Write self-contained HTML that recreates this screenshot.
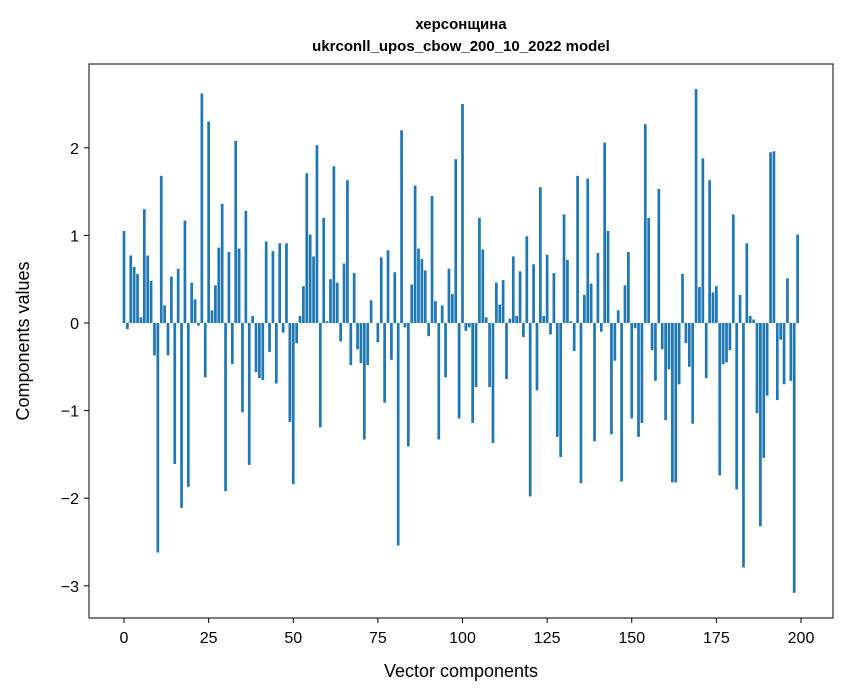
<!DOCTYPE html>
<html><head><meta charset="utf-8"><style>
body{margin:0;background:#fff;}
svg{display:block;font-family:"Liberation Sans","DejaVu Sans",sans-serif;}
</style></head><body>
<svg id="chart" width="847" height="696" viewBox="0 0 847 696">
<rect width="847" height="696" fill="#fff"/>
<text x="461" y="29" text-anchor="middle" font-size="15" font-weight="bold">херсонщина</text>
<text x="461" y="51" text-anchor="middle" font-size="15" font-weight="bold">ukrconll_upos_cbow_200_10_2022 model</text>
<g id="bars"></g>
<g id="xticks"></g>
<g id="yticks"></g>
<rect x="89" y="64" width="744" height="554" fill="none" stroke="#000" stroke-width="1"/>
<text x="461" y="677" text-anchor="middle" font-size="18">Vector components</text>
<text transform="translate(29,341) rotate(-90)" text-anchor="middle" font-size="18">Components values</text>
</svg>
<script>
const values = [1.05,-0.07,0.77,0.64,0.56,0.065,1.30,0.77,0.48,-0.37,
-2.62,1.68,0.20,-0.37,0.53,-1.61,0.62,-2.11,1.17,-1.87,
0.46,0.27,-0.03,2.62,-0.62,2.30,0.145,0.43,0.86,1.36,
-1.92,0.81,-0.47,2.08,0.85,-1.02,1.28,-1.62,0.08,-0.56,
-0.63,-0.65,0.93,-0.33,0.82,-0.69,0.91,-0.11,0.91,-1.13,
-1.84,-0.23,0.08,0.42,1.71,1.01,0.76,2.03,-1.19,1.20,
0.02,0.50,1.79,0.46,-0.21,0.68,1.63,-0.48,0.57,-0.30,
-0.46,-1.33,-0.48,0.26,0.0,-0.22,0.75,-0.91,0.83,-0.42,
0.58,-2.54,2.20,-0.05,-1.41,0.44,1.57,0.85,0.73,0.60,
-0.15,1.45,0.25,-1.33,0.20,-0.62,0.62,0.33,1.87,-1.09,
2.50,-0.09,-0.05,-1.14,-0.73,1.20,0.84,0.065,-0.73,-1.37,
0.46,0.21,0.49,-0.64,0.05,0.76,0.08,0.59,-0.16,0.99,
-1.98,0.67,-0.77,1.55,0.08,0.78,-0.13,0.57,-1.30,-1.53,
1.24,0.72,0.02,-0.32,1.68,-1.83,0.32,1.65,0.45,-1.35,
0.80,-0.10,2.06,1.05,-1.27,-0.43,0.145,-1.81,0.43,0.81,
-1.09,-0.06,-1.30,-1.14,2.27,1.20,-0.31,-0.66,1.53,-0.30,
-1.11,-0.53,-1.82,-1.82,-0.70,0.56,-0.23,-0.50,-1.15,2.67,
0.41,1.88,-0.63,1.63,0.35,0.42,-1.74,-0.47,-0.45,-0.31,
1.24,-1.90,0.32,-2.79,0.91,0.08,0.04,-1.03,-2.32,-1.54,
-0.83,1.95,1.96,-0.88,-0.19,-0.70,0.51,-0.66,-3.08,1.01];
const xTickValues = [0,25,50,75,100,125,150,175,200];
const yTickValues = [-3,-2,-1,0,1,2];
const yTickLabels = ["\u22123","\u22122","\u22121","0","1","2"];

const NS = "http://www.w3.org/2000/svg";
function xScale(v){ return 124 + 3.385*v; }
function yScale(v){ return 323 - 87.6*v; }

const barsG = document.getElementById('bars');
values.forEach((v,i)=>{
  const r = document.createElementNS(NS,'rect');
  const y0 = yScale(0), y1 = yScale(v);
  r.setAttribute('x', xScale(i) - 0.4*3.385);
  r.setAttribute('width', 0.8*3.385);
  r.setAttribute('y', Math.min(y0,y1));
  r.setAttribute('height', Math.abs(y1-y0));
  r.setAttribute('fill', '#1f77b4');
  
  
  barsG.appendChild(r);
});

const xg = document.getElementById('xticks');
xTickValues.forEach(t=>{
  const x = xScale(t);
  const l = document.createElementNS(NS,'line');
  l.setAttribute('x1',x); l.setAttribute('x2',x); l.setAttribute('y1',618); l.setAttribute('y2',623);
  l.setAttribute('stroke','#000');
  
  
  xg.appendChild(l);
  const tx = document.createElementNS(NS,'text');
  tx.setAttribute('x',x); tx.setAttribute('y',643); tx.setAttribute('text-anchor','middle'); tx.setAttribute('font-size','16');
  tx.textContent = t;
  
  
  xg.appendChild(tx);
});

const yg = document.getElementById('yticks');
yTickValues.forEach((t,k)=>{
  const y = yScale(t);
  const l = document.createElementNS(NS,'line');
  l.setAttribute('x1',84); l.setAttribute('x2',89); l.setAttribute('y1',y); l.setAttribute('y2',y);
  l.setAttribute('stroke','#000');
  
  
  yg.appendChild(l);
  const tx = document.createElementNS(NS,'text');
  tx.setAttribute('x',79); tx.setAttribute('y',y+6); tx.setAttribute('text-anchor','end'); tx.setAttribute('font-size','16');
  tx.textContent = yTickLabels[k];
  
  
  yg.appendChild(tx);
});
</script>
</body></html>
